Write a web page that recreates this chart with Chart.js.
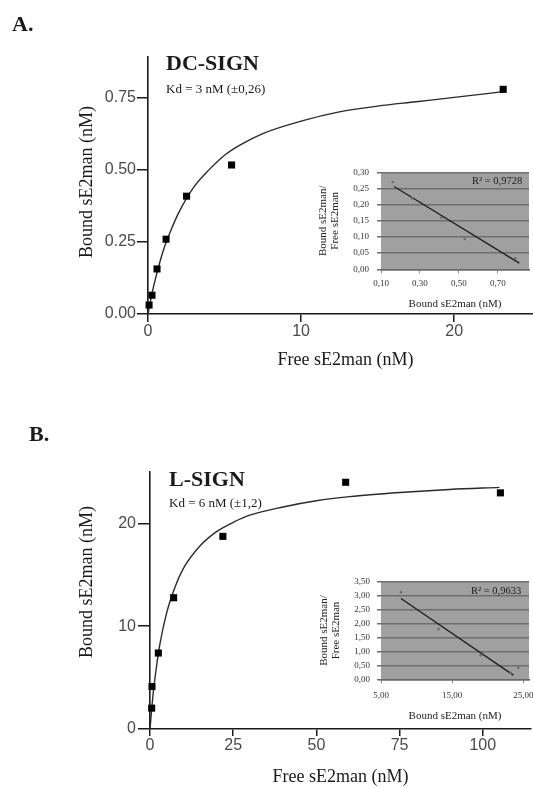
<!DOCTYPE html>
<html>
<head>
<meta charset="utf-8">
<script src="https://cdn.jsdelivr.net/npm/chart.js@4.4.1/dist/chart.umd.min.js"></script>
<style>
body { margin: 0; width: 533px; height: 788px; overflow: hidden; background: #fff; position: relative; font-family: "Liberation Serif", "Times New Roman", serif; color: #1a1a1a; }
canvas { position: absolute; }
.txt { position: absolute; white-space: nowrap; line-height: 1; }
.panel { font-size: 22px; font-weight: bold; }
.name { font-size: 22px; font-weight: bold; }
.kd { font-size: 13px; }
.r2 { font-size: 10.5px; }
.ytitle { font-size: 18px; transform: translate(-50%, -50%) rotate(-90deg); }
</style>
</head>
<body>
<canvas id="mainA" width="548" height="390" style="left:0;top:0"></canvas>
<canvas id="insetA" width="233" height="170" style="left:300px;top:150px"></canvas>
<canvas id="mainB" width="536" height="398" style="left:0;top:390px"></canvas>
<canvas id="insetB" width="233" height="170" style="left:300px;top:560px"></canvas>

<div class="txt panel" style="left:12px;top:13px">A.</div>
<div class="txt name" style="left:166px;top:52px">DC-SIGN</div>
<div class="txt kd" style="left:166px;top:82px">Kd = 3 nM (±0,26)</div>
<div class="txt ytitle" style="left:86px;top:182px">Bound sE2man (nM)</div>
<div class="txt r2" style="left:472px;top:176px">R² = 0,9728</div>

<div class="txt panel" style="left:29px;top:423px">B.</div>
<div class="txt name" style="left:169px;top:468px">L-SIGN</div>
<div class="txt kd" style="left:169px;top:496px">Kd = 6 nM (±1,2)</div>
<div class="txt ytitle" style="left:86px;top:582px">Bound sE2man (nM)</div>
<div class="txt r2" style="left:471px;top:586px">R² = 0,9633</div>

<script>
// A. DC-SIGN saturation binding (Free vs Bound, nM)
var freeA  = [0.07, 0.26, 0.59, 1.18, 2.52, 5.46, 23.2];
var boundA = [0.031, 0.065, 0.156, 0.259, 0.408, 0.516, 0.778];
// fitted curve
var fitFreeA  = [0, 0.25, 0.5, 1, 1.5, 2, 3, 4, 5, 6, 7.5, 10, 12.5, 15, 17.5, 20, 23.2];
var fitBoundA = [0, 0.068, 0.125, 0.22, 0.29, 0.35, 0.44, 0.5, 0.55, 0.585, 0.625, 0.668, 0.70, 0.72, 0.735, 0.75, 0.77];
var ticksXA = [0, 10, 20];
var ticksYA = [0, 0.25, 0.5, 0.75];

// A. inset: Scatchard plot (Bound vs Bound/Free)
var scatXA = [0.16, 0.26, 0.41, 0.53, 0.79];
var scatYA = [0.27, 0.22, 0.16, 0.094, 0.034];
var trendXA = [0.167, 0.81];
var trendYA = [0.256, 0.019];
var insetTicksXA = [0.1, 0.3, 0.5, 0.7];
var insetTicksYA = [0, 0.05, 0.1, 0.15, 0.2, 0.25, 0.3];

// B. L-SIGN saturation binding
var freeB  = [0.5, 0.6, 2.5, 7.1, 21.9, 58.8, 105.3];
var boundB = [2.03, 4.13, 7.39, 12.77, 18.74, 24.0, 22.97];
var fitFreeB  = [0, 0.5, 1, 2, 3, 5, 7.5, 10, 15, 20, 25, 30, 40, 50, 60, 75, 90, 105];
var fitBoundB = [0, 1.9, 3.6, 6.2, 8.3, 11.3, 13.8, 15.6, 17.8, 19.2, 20.1, 20.8, 21.6, 22.2, 22.6, 23.0, 23.3, 23.5];
var ticksXB = [0, 25, 50, 75, 100];
var ticksYB = [0, 10, 20];

// B. inset
var scatXB = [7.8, 13.1, 19.0, 23.2, 24.3];
var scatYB = [3.12, 1.8, 0.86, 0.23, 0.42];
var trendXB = [7.8, 23.6];
var trendYB = [2.9, 0.15];
var insetTicksXB = [5, 15, 25];
var insetTicksYB = [0, 0.5, 1, 1.5, 2, 2.5, 3, 3.5];


function pts(xs, ys) {
    return xs.map(function (x, i) { return {x: x, y: ys[i]}; });
}

function fixedTicks(list) {
    return function (scale) {
        scale.ticks = list.map(function (v) { return {value: v}; });
    };
}

// fixed box size, and no extra padding for labels that hang over the edge
function fitBox(w, h) {
    return function (sc) {
        if (w !== null) sc.width = w;
        if (h !== null) sc.height = h;
        sc.paddingLeft = 0;
        sc.paddingRight = 0;
        sc.paddingTop = 0;
        sc.paddingBottom = 0;
    };
}

function comma(v) { return v.toFixed(2).replace('.', ','); }

var plotBg = {
    id: 'plotBg',
    beforeDraw: function (chart, args, o) {
        if (!o.color) return;
        var a = chart.chartArea, ctx = chart.ctx;
        ctx.save();
        ctx.fillStyle = o.color;
        ctx.fillRect(a.left, a.top, a.right - a.left, a.bottom - a.top);
        ctx.restore();
    }
};

var tickFont = {family: '"Liberation Sans", Arial, sans-serif', size: 16};
var serif = '"Liberation Serif", "Times New Roman", serif';

function mainChart(id, s) {
    return new Chart(document.getElementById(id), {
        type: 'scatter',
        data: {
            datasets: [
                {
                    data: pts(s.fitX, s.fitY),
                    showLine: true,
                    pointRadius: 0,
                    borderColor: '#2a2a2a',
                    borderWidth: 1.4,
                    cubicInterpolationMode: 'monotone',
                    order: 2,
                    clip: false
                },
                {
                    data: pts(s.x, s.y),
                    pointStyle: 'rect',
                    pointRadius: 5,
                    backgroundColor: '#000',
                    borderWidth: 0,
                    order: 1,
                    clip: false
                }
            ]
        },
        options: {
            responsive: false,
            animation: false,
            devicePixelRatio: 1,
            layout: {padding: {top: s.top, left: 0, right: 0, bottom: 0}},
            plugins: {legend: {display: false}, tooltip: {enabled: false}},
            scales: {
                x: {
                    type: 'linear', min: 0, max: s.xMax,
                    afterBuildTicks: fixedTicks(s.ticksX),
                    afterFit: fitBox(null, s.xHeight),
                    grid: {drawOnChartArea: false, color: '#1a1a1a', lineWidth: 1.5, tickLength: s.xTick},
                    border: {display: true, color: '#1a1a1a', width: 1.6},
                    ticks: {font: tickFont, color: '#4a4a4a', padding: 0, maxRotation: 0},
                    title: {display: true, text: 'Free sE2man (nM)', color: '#1a1a1a',
                            font: {family: serif, size: 18}, padding: {top: 0, bottom: s.xTitlePad}}
                },
                y: {
                    type: 'linear', min: 0, max: s.yMax,
                    afterBuildTicks: fixedTicks(s.ticksY),
                    afterFit: fitBox(s.yWidth, null),
                    grid: {drawOnChartArea: false, color: '#1a1a1a', lineWidth: 1.5, tickLength: s.yTick},
                    border: {display: true, color: '#1a1a1a', width: 1.6},
                    ticks: {font: tickFont, color: '#4a4a4a', padding: s.yPad, callback: s.fmt}
                }
            }
        }
    });
}

function insetChart(id, s) {
    return new Chart(document.getElementById(id), {
        type: 'scatter',
        data: {
            datasets: [
                {
                    data: pts(s.lineX, s.lineY),
                    showLine: true,
                    pointRadius: 0,
                    borderColor: '#1e1e1e',
                    borderWidth: 1.3,
                    order: 2
                },
                {
                    data: pts(s.x, s.y),
                    pointRadius: 1.3,
                    backgroundColor: '#6a6a6a',
                    borderWidth: 0,
                    order: 1
                }
            ]
        },
        plugins: [plotBg],
        options: {
            responsive: false,
            animation: false,
            devicePixelRatio: 1,
            layout: {padding: {top: s.top, left: 0, right: 0, bottom: 0}},
            plugins: {legend: {display: false}, tooltip: {enabled: false}, plotBg: {color: '#a0a0a0'}},
            scales: {
                x: {
                    type: 'linear', min: s.xMin, max: s.xMax,
                    afterBuildTicks: fixedTicks(s.ticksX),
                    afterFit: fitBox(null, 50.7),
                    grid: {drawOnChartArea: false, color: '#8a8a8a', lineWidth: 1, tickLength: 4},
                    border: {display: true, color: '#6a6a6a', width: 1.5},
                    ticks: {font: {family: serif, size: 9}, color: '#333', padding: s.xPad, maxRotation: 0, callback: comma},
                    title: {display: true, text: 'Bound sE2man (nM)', color: '#222',
                            font: {family: serif, size: 11}, padding: {top: 0, bottom: s.xTitlePad}}
                },
                y: {
                    type: 'linear', min: 0, max: s.yMax,
                    afterBuildTicks: fixedTicks(s.ticksY),
                    afterFit: fitBox(81, null),
                    grid: {color: '#6e6e6e', lineWidth: 1.5, tickLength: 4},
                    border: {display: false},
                    ticks: {font: {family: serif, size: 9}, color: '#333', padding: s.yPad, callback: comma},
                    title: {display: true, text: ['Bound sE2man/', 'Free sE2man'], color: '#222',
                            font: {family: serif, size: 11, lineHeight: 1.1}, padding: {top: s.yTitlePad, bottom: 0}}
                }
            }
        }
    });
}

mainChart('mainA', {
    x: freeA, y: boundA, fitX: fitFreeA, fitY: fitBoundA,
    ticksX: ticksXA, ticksY: ticksYA, xMax: 25.8, yMax: 0.89,
    top: 57, xHeight: 76, yWidth: 148, xTick: 8, yTick: 11, yPad: 1, xTitlePad: 19,
    fmt: function (v) { return v.toFixed(2); }
});

insetChart('insetA', {
    x: scatXA, y: scatYA, lineX: trendXA, lineY: trendYA,
    ticksX: insetTicksXA, ticksY: insetTicksYA, xMin: 0.1, xMax: 0.86, yMax: 0.3,
    top: 22.3, xPad: 4.6, yPad: 8, xTitlePad: 9.4, yTitlePad: 17
});

mainChart('mainB', {
    x: freeB, y: boundB, fitX: fitFreeB, fitY: fitBoundB,
    ticksX: ticksXB, ticksY: ticksYB, xMax: 114.5, yMax: 25,
    top: 82, xHeight: 59, yWidth: 150, xTick: 7, yTick: 12, yPad: 2, xTitlePad: 0,
    fmt: function (v) { return String(v); }
});

insetChart('insetB', {
    x: scatXB, y: scatYB, lineX: trendXB, lineY: trendYB,
    ticksX: insetTicksXB, ticksY: insetTicksYB, xMin: 5, xMax: 25.8, yMax: 3.5,
    top: 21.7, xPad: 7.3, yPad: 7, xTitlePad: 7.7, yTitlePad: 18
});
</script>
</body>
</html>
